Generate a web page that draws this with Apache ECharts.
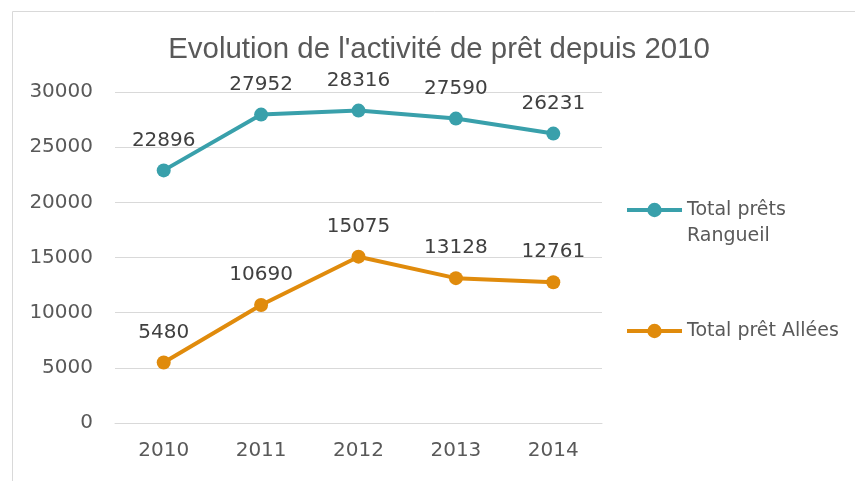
<!DOCTYPE html>
<html><head><meta charset="utf-8">
<script src="https://cdn.jsdelivr.net/npm/echarts@6/dist/echarts.min.js"></script>
<style>html,body{margin:0;padding:0;background:#fff}#c{width:855px;height:481px}</style>
</head><body><div id="c"></div>
<script>
const categories = ['2010','2011','2012','2013','2014'];
const rangueil = [22896, 27952, 28316, 27590, 26231];
const allees = [5480, 10690, 15075, 13128, 12761];
const yTicks = [0, 5000, 10000, 15000, 20000, 25000, 30000];
const seriesNames = ['Total prêts Rangueil', 'Total prêt Allées'];

const font = '"DejaVu Sans", sans-serif';
const txt = '#595959';
const chart = echarts.init(document.getElementById('c'));
const mkSeries = (name, data, color) => ({
  name, type: 'line', data,
  symbol: 'circle', symbolSize: 14,
  lineStyle: { width: 4, color }, itemStyle: { color },
  label: { show: true, position: 'top', distance: 13, fontFamily: font, fontSize: 20, color: '#404040' }
});
chart.setOption({
  animation: false,
  graphic: [{ type: 'rect', shape: { x: 12.5, y: 11.5, width: 900, height: 500 }, style: { fill: 'none', stroke: '#d9d9d9', lineWidth: 1 } }],
  title: { text: "Evolution de l'activité de prêt depuis 2010", left: 434, top: 30, textAlign: 'center',
    textStyle: { fontFamily: 'Liberation Sans, Arial', fontSize: 29.4, fontWeight: 'normal', color: txt } },
  grid: { left: 115, right: 253, top: 92, bottom: 58, containLabel: false },
  legend: [
    { data: [seriesNames[0]], left: 620, top: 166, orient: 'vertical', itemWidth: 55, itemHeight: 18, itemGap: 0,
      formatter: () => '\u00a0\nTotal prêts\nRangueil',
      lineStyle: { width: 4 },
      textStyle: { fontFamily: font, fontSize: 19, color: txt, lineHeight: 26 } },
    { data: [seriesNames[1]], left: 620, top: 313, orient: 'vertical', itemWidth: 55, itemHeight: 18,
      lineStyle: { width: 4 },
      textStyle: { fontFamily: font, fontSize: 19, color: txt, lineHeight: 26 } }
  ],
  xAxis: { type: 'category', data: categories, boundaryGap: true,
    axisLine: { lineStyle: { color: '#d9d9d9' } }, axisTick: { show: false },
    axisLabel: { fontFamily: font, fontSize: 20, color: txt, margin: 18 } },
  yAxis: { type: 'value', min: yTicks[0], max: yTicks[yTicks.length - 1], interval: 5000,
    axisLine: { show: false }, axisTick: { show: false },
    splitLine: { lineStyle: { color: '#d9d9d9' } },
    axisLabel: { fontFamily: font, fontSize: 20, color: txt, margin: 22, formatter: v => String(v) } },
  series: [mkSeries(seriesNames[0], rangueil, '#39a0ab'), mkSeries(seriesNames[1], allees, '#e08b0c')]
});
</script></body></html>
